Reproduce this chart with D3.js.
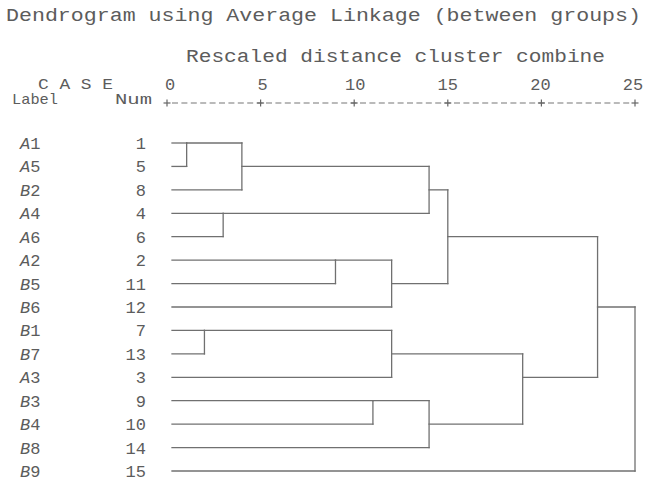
<!DOCTYPE html>
<html>
<head>
<meta charset="utf-8">
<script src="https://cdn.jsdelivr.net/npm/d3@7"></script>
<style>
  html, body { margin: 0; padding: 0; background: #ffffff; }
  svg { display: block; }
  text { font-family: "Courier New", "Liberation Mono", monospace; fill: #5c5c5c; }
</style>
</head>
<body>
<svg id="chart" width="646" height="484"></svg>
<script>
// Cases in dendrogram order
const caseLabels = ["A1", "A5", "B2", "A4", "A6", "A2", "B5", "B6", "B1", "B7", "A3", "B3", "B4", "B8", "B9"];
const caseNums   = [1, 5, 8, 4, 6, 2, 11, 12, 7, 13, 3, 9, 10, 14, 15];

// Agglomeration schedule: clusters (named by their top case) joined at a rescaled distance
const mergeLeft  = ["A1", "B1", "A4", "A1", "A2", "B3", "A2", "B1", "A1", "B3", "A1", "B1", "A1", "A1"];
const mergeRight = ["A5", "B7", "A6", "B2", "B5", "B4", "B6", "A3", "A4", "B8", "A2", "B3", "B1", "B9"];
const mergeDist  = [1.05, 2, 3, 4, 9, 11, 12, 12, 14, 14, 15, 19, 23, 25];

// Axis ticks
const tickValues = [0, 5, 10, 15, 20, 25];

const title    = "Dendrogram using Average Linkage (between groups)";
const subtitle = "Rescaled distance cluster combine";

const svg = d3.select("#chart");
const lineColor = "#707070";

const x = d3.scaleLinear().domain([0, 25]).range([167, 635]);
const y = d3.scaleLinear().domain([0, caseLabels.length - 1]).range([143, 471]);
const leafStart = x(0) + 5;

// Headings
svg.append("text").attr("x", 6).attr("y", 21)
  .attr("font-size", 19).attr("textLength", 635).attr("lengthAdjust", "spacingAndGlyphs")
  .text(title);
svg.append("text").attr("x", 186).attr("y", 62)
  .attr("font-size", 19).attr("textLength", 419).attr("lengthAdjust", "spacingAndGlyphs")
  .text(subtitle);

svg.append("text").attr("x", 38).attr("y", 89).attr("font-size", 15)
  .attr("textLength", 75).attr("lengthAdjust", "spacingAndGlyphs").text("C A S E");
svg.append("text").attr("x", 12).attr("y", 104).attr("font-size", 15)
  .attr("textLength", 46).attr("lengthAdjust", "spacingAndGlyphs").text("Label");
svg.append("text").attr("x", 115).attr("y", 104).attr("font-size", 15)
  .attr("textLength", 37).attr("lengthAdjust", "spacingAndGlyphs").text("Num");

// Distance axis: tick numbers, a dashed rule and "+" marks
svg.selectAll("text.tick").data(tickValues).enter().append("text")
  .attr("class", "tick")
  .attr("x", d => x(d) + 3 - d * 0.2).attr("y", 90)
  .attr("font-size", 17).attr("text-anchor", "middle")
  .text(d => d);

const axisY = 103;
svg.append("line")
  .attr("x1", x(0) + 5).attr("x2", x(25) - 3)
  .attr("y1", axisY).attr("y2", axisY)
  .attr("stroke", "#777").attr("stroke-width", 1.2)
  .attr("stroke-dasharray", "6,3.4");
tickValues.forEach(v => {
  svg.append("line").attr("x1", x(v) - 3.5).attr("x2", x(v) + 3.5)
    .attr("y1", axisY).attr("y2", axisY).attr("stroke", "#666").attr("stroke-width", 1.2);
  svg.append("line").attr("x1", x(v)).attr("x2", x(v))
    .attr("y1", axisY - 3.5).attr("y2", axisY + 3.5).attr("stroke", "#666").attr("stroke-width", 1.2);
});

// Case labels (letter in italics) and case numbers
caseLabels.forEach((lab, i) => {
  const t = svg.append("text").attr("x", 20).attr("y", y(i) + 6).attr("font-size", 17);
  t.append("tspan").attr("font-style", "italic").text(lab[0]);
  t.append("tspan").text(lab.slice(1));
  svg.append("text").attr("x", 146).attr("y", y(i) + 6).attr("font-size", 17)
    .attr("text-anchor", "end").text(caseNums[i]);
});

// Build the tree: each cluster keeps its row position and the distance where it was formed
const nodes = {};
caseLabels.forEach((lab, i) => { nodes[lab] = { row: i, dist: null }; });

const g = svg.append("g")
  .attr("fill", "none").attr("stroke", lineColor).attr("stroke-width", 1.3)
  .attr("stroke-linecap", "square");

mergeLeft.forEach((a, k) => {
  const b = mergeRight[k];
  const na = nodes[a], nb = nodes[b];
  const xm = x(mergeDist[k]);
  [na, nb].forEach(n => {
    const x0 = n.dist === null ? leafStart : x(n.dist);
    g.append("line").attr("x1", x0).attr("x2", xm)
      .attr("y1", y(n.row)).attr("y2", y(n.row));
  });
  g.append("line").attr("x1", xm).attr("x2", xm)
    .attr("y1", y(na.row)).attr("y2", y(nb.row));
  nodes[a] = { row: Math.floor((na.row + nb.row) / 2), dist: mergeDist[k] };
});
</script>
</body>
</html>
